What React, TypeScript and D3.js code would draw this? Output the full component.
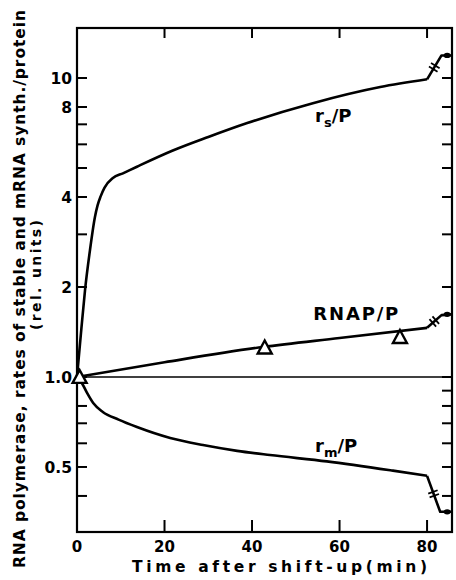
import React from "react";
import * as d3 from "d3";

const width = 456;
const height = 580;
const margin = { top: 28, right: 4, bottom: 48, left: 77 };

// stable RNA synthesis / protein
const rsTime = [0, 1.0, 1.83, 2.97, 4.1, 4.7, 5.4, 6.3, 8.2, 10.5, 13.7, 21.9, 30, 38.9, 53.9, 69.3, 80];
const rsValue = [1.0, 1.45, 1.95, 2.66, 3.43, 3.75, 4.02, 4.3, 4.63, 4.8, 5.05, 5.72, 6.35, 7.07, 8.24, 9.33, 9.9];
const rsTailTime = [80, 83.3, 85.5];
const rsTailValue = [9.9, 11.9, 11.9];

// RNA polymerase / protein
const rnapTime = [0, 20, 42.5, 60, 80];
const rnapValue = [1.0, 1.12, 1.26, 1.35, 1.46];
const rnapTailTime = [80, 83.3, 85.5];
const rnapTailValue = [1.46, 1.61, 1.62];
const rnapPointTime = [0.6, 42.9, 73.8];
const rnapPointValue = [1.0, 1.255, 1.36];

// mRNA synthesis / protein
const rmTime = [0, 1.1, 2.3, 3.7, 5.9, 9.5, 13.7, 21.3, 28.8, 36.6, 44.1, 57.1, 72.2, 80];
const rmValue = [1.0, 0.955, 0.884, 0.818, 0.764, 0.72, 0.68, 0.625, 0.592, 0.566, 0.548, 0.522, 0.486, 0.467];
const rmTailTime = [80, 83, 85.5];
const rmTailValue = [0.467, 0.354, 0.354];

const endMarkTime = 84.6;

const xTicks = [0, 20, 40, 60, 80];
const yMajor = [0.5, 1, 2, 4, 8, 10];
const yMajorLabels = ["0.5", "1.0", "2", "4", "8", "10"];
const yMinorLeft = [0.4, 0.6, 0.7, 0.8, 3, 5, 6, 7];
const yMinorRight = [0.4, 0.6, 0.7, 0.8, 0.9, 3, 5, 6, 7];

const font = "'DejaVu Sans', sans-serif";

export default function App() {
  const x = d3.scaleLinear().domain([0, 85.7]).range([margin.left, width - margin.right]);
  const y = d3.scaleLog().domain([0.303, 14.7]).range([height - margin.bottom, margin.top]);
  const x0 = x.range()[0], x1 = x.range()[1];
  const y0 = y.range()[0], y1 = y.range()[1];

  const path = (t: number[], v: number[], curve: d3.CurveFactory) =>
    d3.line<[number, number]>()
      .x(d => x(d[0]))
      .y(d => y(d[1]))
      .curve(curve)(d3.zip(t, v) as [number, number][]) || "";

  const tails = [
    [rsTailTime, rsTailValue],
    [rnapTailTime, rnapTailValue],
    [rmTailTime, rmTailValue],
  ];

  // small break symbol on the first segment of each tail
  const breakMark = (t: number[], v: number[], k: number) => {
    const ax = x(t[0]), ay = y(v[0]), bx = x(t[1]), by = y(v[1]);
    const mx = (ax + bx) / 2, my = (ay + by) / 2;
    const len = Math.hypot(bx - ax, by - ay);
    const ux = (bx - ax) / len, uy = (by - ay) / len;
    const px = -uy, py = ux;
    return (
      <g key={"b" + k} stroke="#000" strokeWidth={1.8} fill="none">
        {[-2, 2].map(o => (
          <line key={o}
            x1={mx + ux * o - px * 5} y1={my + uy * o - py * 5}
            x2={mx + ux * o + px * 5} y2={my + uy * o + py * 5} />
        ))}
      </g>
    );
  };

  const tri = (cx: number, cy: number) => {
    const s = 7;
    return `M${cx},${cy - s}L${cx + s},${cy + s * 0.85}L${cx - s},${cy + s * 0.85}Z`;
  };

  return (
    <svg width={width} height={height} style={{ position: "absolute", left: 0, top: 0, background: "#fff" }}
      fontFamily={font} fontWeight="bold">
      <rect width={width} height={height} fill="#fff" />

      {/* reference line at 1.0 */}
      <line x1={x0} x2={x1} y1={y(1)} y2={y(1)} stroke="#000" strokeWidth={1.5} />

      {/* frame */}
      <rect x={x0} y={y1} width={x1 - x0} height={y0 - y1} fill="none" stroke="#000" strokeWidth={2.2} />

      {/* x ticks */}
      {xTicks.filter(t => t > 0).map(t => (
        <g key={"xt" + t} stroke="#000" strokeWidth={2}>
          <line x1={x(t)} x2={x(t)} y1={y0} y2={y0 - 12} />
          <line x1={x(t)} x2={x(t)} y1={y1} y2={y1 + 10} />
        </g>
      ))}
      {xTicks.map(t => (
        <text key={"xl" + t} x={x(t)} y={y0 + 20} textAnchor="middle" fontSize={15}>{t}</text>
      ))}

      {/* y ticks */}
      {yMajor.concat(yMinorLeft).map(v => (
        <line key={"yl" + v} x1={x0} x2={x0 + 10} y1={y(v)} y2={y(v)} stroke="#000" strokeWidth={2} />
      ))}
      {yMajor.concat(yMinorRight).map(v => (
        <line key={"yr" + v} x1={x1} x2={x1 - 10} y1={y(v)} y2={y(v)} stroke="#000" strokeWidth={2} />
      ))}
      {yMajor.map((v, i) => (
        <text key={"ylab" + v} x={x0 - 5} y={y(v)} dy="0.36em" textAnchor="end" fontSize={15.5}>{yMajorLabels[i]}</text>
      ))}

      {/* curves */}
      <g fill="none" stroke="#000" strokeWidth={2.6} strokeLinejoin="round">
        <path d={path(rsTime, rsValue, d3.curveMonotoneX)} />
        <path d={path(rnapTime, rnapValue, d3.curveMonotoneX)} />
        <path d={path(rmTime, rmValue, d3.curveMonotoneX)} />
        {tails.map(([t, v], k) => <path key={"t" + k} d={path(t, v, d3.curveLinear)} />)}
      </g>
      {tails.map(([t, v], k) => breakMark(t, v, k))}
      {tails.map(([t, v], k) => (
        <ellipse key={"e" + k} cx={x(endMarkTime)} cy={y(v[v.length - 1])} rx={3.5} ry={2.6} fill="#000" />
      ))}

      {/* RNAP data points */}
      {rnapPointTime.map((t, i) => (
        <path key={"p" + i} d={tri(x(t), y(rnapPointValue[i]))} fill="#fff" stroke="#000" strokeWidth={2.4} strokeLinejoin="miter" />
      ))}

      {/* curve labels */}
      <text x={x(54.4)} y={y(7.1)} fontSize={18}>
        r<tspan fontSize={13} dy={5}>s</tspan><tspan dy={-5}>/P</tspan>
      </text>
      <text x={x(54)} y={y(1.55)} fontSize={18} textLength={85} lengthAdjust="spacing">RNAP/P</text>
      <text x={x(54.4)} y={y(0.563)} fontSize={18}>
        r<tspan fontSize={13} dy={5}>m</tspan><tspan dy={-5}>/P</tspan>
      </text>

      {/* axis titles */}
      <text x={132} y={572} fontSize={15.5} textLength={295} lengthAdjust="spacing">Time after shift-up(min)</text>
      <text transform="translate(25,289) rotate(-90)" textAnchor="middle" fontSize={15.5}
        textLength={558} lengthAdjust="spacing">RNA polymerase, rates of stable and mRNA synth./protein</text>
      <text transform="translate(41,275) rotate(-90)" textAnchor="middle" fontSize={14}
        textLength={110} lengthAdjust="spacing">(rel. units)</text>
    </svg>
  );
}
